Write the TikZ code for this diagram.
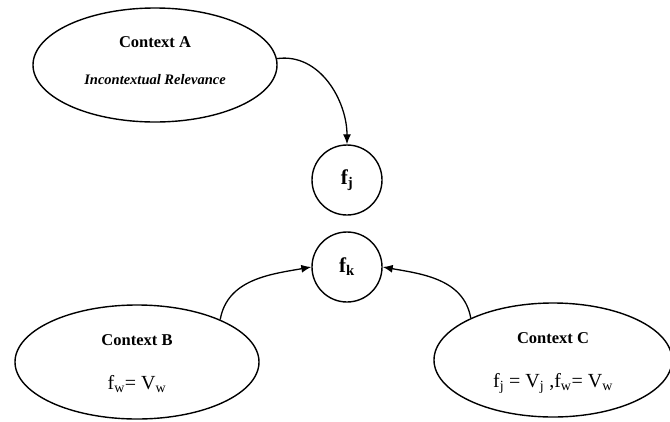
\documentclass[tikz,border=0pt]{standalone}
\usepackage{fontspec}
\setmainfont{Liberation Serif}
\usetikzlibrary{shapes.geometric,arrows.meta}
\begin{document}
\begin{tikzpicture}[x=1pt,y=-1pt,
  ctx/.style={draw, ellipse, line width=1.4pt, inner sep=0pt,
              minimum width=244pt, minimum height=114pt},
  feat/.style={draw, circle, line width=1.4pt, inner sep=0pt,
               minimum size=70pt, font=\fontsize{21}{24}\selectfont\bfseries},
  title/.style={font=\fontsize{16.5}{19}\selectfont\bfseries},
  eqn/.style={font=\fontsize{20}{24}\selectfont},
  link/.style={line width=1.3pt, -{Latex[length=10pt,width=8pt]}}]
  \useasboundingbox (0,0) rectangle (670,421);

  % contexts
  \node[ctx] (A) at (155,65) {};
  \node[title] (At) at (155,42) {Context A};
  \node[font=\fontsize{14.5}{17}\selectfont\bfseries\itshape] (Ad) at (155,80) {Incontextual Relevance};

  \node[ctx] (B) at (137,362) {};
  \node[title] (Bt) at (137,340) {Context B};
  \node[eqn] (Bd) at (137,384) {f\textsubscript{w}= V\textsubscript{w}};

  \node[ctx, minimum width=238pt] (C) at (553,360) {};
  \node[title] (Ct) at (553,338) {Context C};
  \node[eqn] (Cd) at (553,383) {f\textsubscript{j} = V\textsubscript{j} ,f\textsubscript{w}= V\textsubscript{w}};

  % features
  \node[feat] (fj) at (347,180) {f\textsubscript{j}};
  \node[feat] (fk) at (347,267) {f\textsubscript{k}};

  % influences
  \draw[link] (A.3) to[out=8, in=90] (fj.north);
  \draw[link] (B.27) to[out=80, in=190] (fk.west);
  \draw[link] (C.153) to[out=100, in=-10] (fk.east);
\end{tikzpicture}
\end{document}
